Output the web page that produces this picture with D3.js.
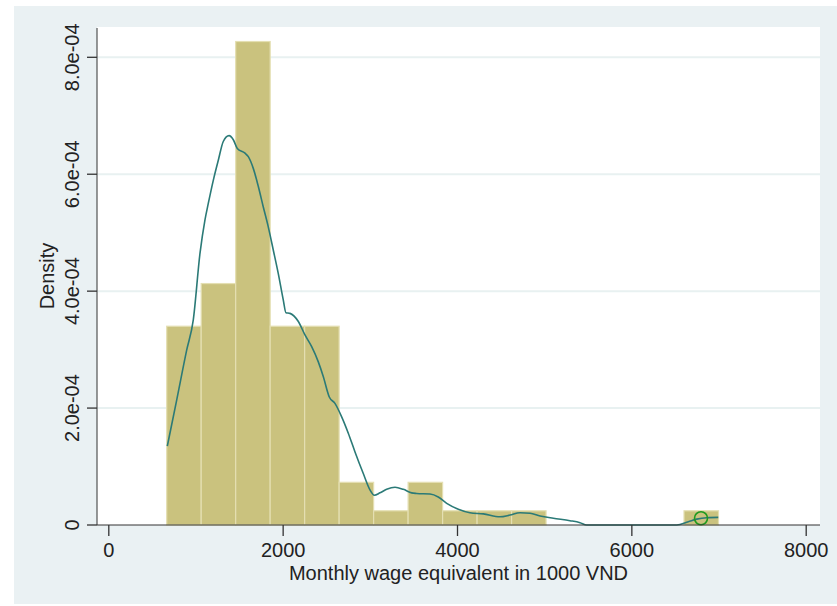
<!DOCTYPE html>
<html>
<head>
<meta charset="utf-8">
<script src="https://cdn.jsdelivr.net/npm/d3@7"></script>
<style>
  body { margin: 0; background: #fff; }
  svg { display: block; font-family: "Liberation Sans", Arial, sans-serif; }
</style>
</head>
<body>
<svg id="drawing_region"></svg>
<script>

// histogram: 16 bins starting at 670, width ~395.6
var binMin = 670;
var binWidth = 395.6;
var barDensity = [3.40e-4, 4.13e-4, 8.27e-4, 3.40e-4, 3.40e-4, 0.73e-4, 0.243e-4, 0.73e-4,
                  0.243e-4, 0.243e-4, 0.243e-4, 0, 0, 0, 0, 0.243e-4];

// kernel density estimate
var kdenX = [677, 785, 899, 975, 1052, 1109, 1147, 1205, 1262, 1319, 1385, 1434, 1480, 1568, 1606,
             1663, 1721, 1778, 1835, 1893, 1950, 2007, 2038, 2084, 2180, 2256, 2333, 2409, 2466,
             2535, 2600, 2677, 2753, 2830, 2925, 3002, 3051, 3117, 3193, 3289, 3384, 3480, 3537,
             3690, 3785, 3882, 4015, 4149, 4302, 4493, 4608, 4723, 4838, 4953, 5105, 5296, 5411,
             5488, 6000, 6520, 6653, 6750, 6864, 6997];
var kdenY = [1.35, 2.14, 2.99, 3.51, 4.65, 5.22, 5.50, 5.90, 6.24, 6.56, 6.66, 6.59, 6.44, 6.36, 6.30,
             6.10, 5.79, 5.44, 5.10, 4.70, 4.30, 3.85, 3.63, 3.62, 3.48, 3.25, 3.05, 2.79, 2.54,
             2.19, 2.08, 1.85, 1.57, 1.25, 0.88, 0.60, 0.51, 0.55, 0.61, 0.645, 0.61, 0.55, 0.54,
             0.53, 0.48, 0.37, 0.27, 0.21, 0.19, 0.14, 0.17, 0.21, 0.20, 0.154, 0.115, 0.074, 0.04,
             0, 0, 0, 0.056, 0.10, 0.125, 0.13].map(v => v * 1e-4);

// single marked point
var markX = [6799];
var markY = [1.15e-5];

var xTicks = [0, 2000, 4000, 6000, 8000];
var yTicks = [0, 2e-4, 4e-4, 6e-4, 8e-4];

var config = {
    width: 837,
    height: 606,
    plot: {left: 97, right: 820, top: 27, bottom: 525}
};

var svg = d3.select('#drawing_region')
    .attr('width', config.width)
    .attr('height', config.height);

// outer graph region
svg.append('rect')
    .attr('x', 14).attr('y', 6)
    .attr('width', config.width - 14).attr('height', 598)
    .attr('fill', '#eaf1f3');

// plot region
svg.append('rect')
    .attr('x', config.plot.left).attr('y', config.plot.top)
    .attr('width', config.plot.right - config.plot.left)
    .attr('height', config.plot.bottom - config.plot.top)
    .attr('fill', '#ffffff');

var xscale = d3.scaleLinear()
    .domain([0, 8000])
    .range([108.3, 805.7]);

var yscale = d3.scaleLinear()
    .domain([0, 8e-4])
    .range([config.plot.bottom, 57.3]);

// gridlines
svg.append('g')
    .selectAll('line')
    .data(yTicks.filter(d => d > 0))
    .enter()
    .append('line')
    .attr('x1', config.plot.left)
    .attr('x2', config.plot.right)
    .attr('y1', d => yscale(d))
    .attr('y2', d => yscale(d))
    .attr('stroke', '#e8f1f1')
    .attr('stroke-width', 2);

// bars
svg.append('g')
    .selectAll('rect')
    .data(barDensity)
    .enter()
    .append('rect')
    .attr('x', (d, i) => xscale(binMin + i * binWidth))
    .attr('width', (d, i) => xscale(binMin + (i + 1) * binWidth) - xscale(binMin + i * binWidth))
    .attr('y', d => yscale(d))
    .attr('height', d => yscale(0) - yscale(d))
    .attr('fill', d => d > 0 ? '#cac27e' : 'none')
    .attr('stroke', d => d > 0 ? '#e4dfb2' : 'none')
    .attr('stroke-width', 1.2);

// density curve
var line = d3.line()
    .x((d, i) => xscale(kdenX[i]))
    .y(d => yscale(d))
    .curve(d3.curveMonotoneX);

svg.append('path')
    .datum(kdenY)
    .attr('d', line)
    .attr('fill', 'none')
    .attr('stroke', '#2b7a77')
    .attr('stroke-width', 1.6);

// marked point
svg.append('g')
    .selectAll('circle')
    .data(markX)
    .enter()
    .append('circle')
    .attr('cx', d => xscale(d))
    .attr('cy', (d, i) => yscale(markY[i]))
    .attr('r', 6.5)
    .attr('fill', 'none')
    .attr('stroke', '#1f9a1f')
    .attr('stroke-width', 1.6);

// axes
var xaxis = d3.axisBottom(xscale)
    .tickValues(xTicks)
    .tickSize(11)
    .tickFormat(d3.format('d'))
    .tickSizeOuter(0);

var yaxis = d3.axisLeft(yscale)
    .tickValues(yTicks)
    .tickSize(10)
    .tickSizeOuter(0)
    .tickFormat(d => d === 0 ? '0' : d.toExponential(1).replace(/e-(\d)$/, 'e-0$1'));

var xaxis_group = svg.append('g')
    .attr('transform', `translate(0, ${config.plot.bottom})`)
    .call(xaxis);
xaxis_group.select('.domain').remove();
xaxis_group.append('line')
    .attr('x1', config.plot.left).attr('x2', config.plot.right)
    .attr('y1', 0).attr('y2', 0)
    .attr('stroke', '#333');

var yaxis_group = svg.append('g')
    .attr('transform', `translate(${config.plot.left}, 0)`)
    .call(yaxis);
yaxis_group.select('.domain').remove();
yaxis_group.append('line')
    .attr('x1', 0).attr('x2', 0)
    .attr('y1', 28).attr('y2', config.plot.bottom)
    .attr('stroke', '#333');

svg.selectAll('.tick line').attr('stroke', '#333').attr('stroke-width', 1.3);
svg.selectAll('.tick text')
    .attr('fill', '#222')
    .style('font-size', '20px');

xaxis_group.selectAll('.tick text')
    .attr('dy', null)
    .attr('y', 32);

yaxis_group.selectAll('.tick text')
    .attr('x', null)
    .attr('dy', null)
    .attr('text-anchor', 'middle')
    .attr('transform', d => `translate(-18, ${yscale(d)}) rotate(-90)`)
    .attr('y', 0);
yaxis_group.selectAll('.tick')
    .attr('transform', null);
yaxis_group.selectAll('.tick line')
    .attr('y1', d => yscale(d))
    .attr('y2', d => yscale(d));

// axis titles
svg.append('text')
    .attr('x', (config.plot.left + config.plot.right) / 2)
    .attr('y', 580)
    .attr('text-anchor', 'middle')
    .attr('fill', '#222')
    .style('font-size', '20px')
    .text('Monthly wage equivalent in 1000 VND');

svg.append('text')
    .attr('transform', `translate(54, ${(config.plot.top + config.plot.bottom) / 2}) rotate(-90)`)
    .attr('text-anchor', 'middle')
    .attr('fill', '#222')
    .style('font-size', '20px')
    .text('Density');

</script>
</body>
</html>
